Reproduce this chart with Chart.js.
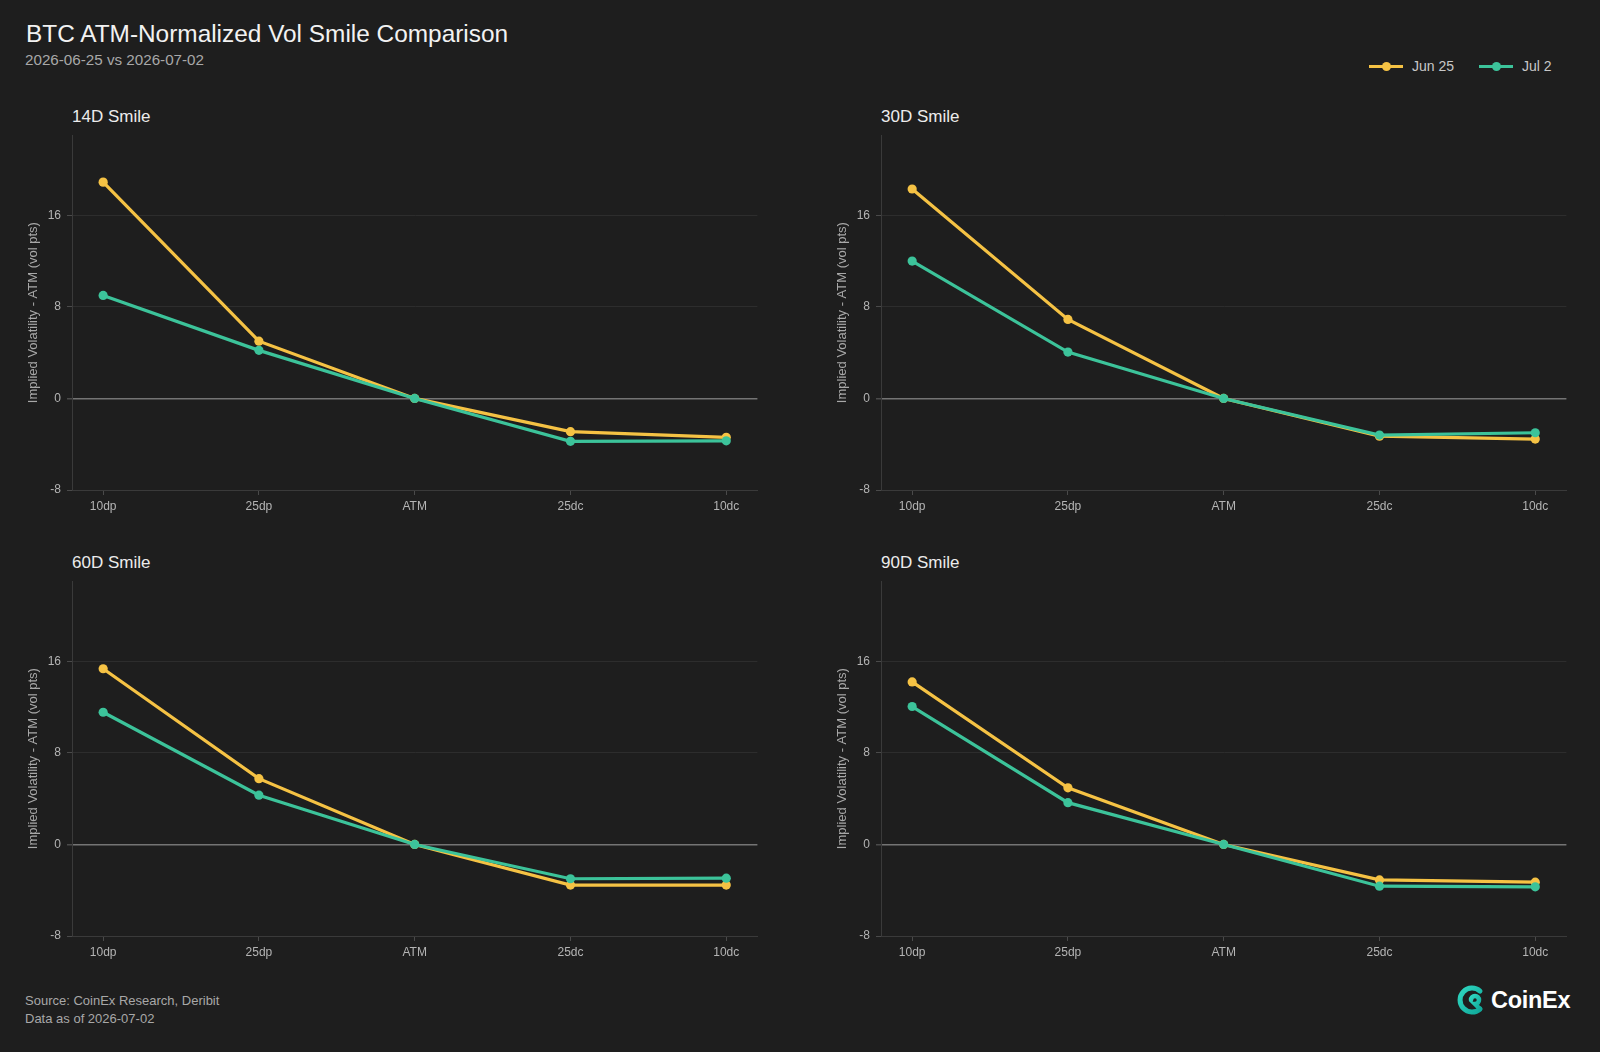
<!DOCTYPE html>
<html>
<head>
<meta charset="utf-8">
<script src="https://cdn.jsdelivr.net/npm/chart.js@4.4.1/dist/chart.umd.min.js"></script>
<style>
  html, body { margin: 0; padding: 0; background: #1e1e1e; }
  body { width: 1600px; height: 1052px; position: relative; overflow: hidden; font-family: "Liberation Sans", Arial, sans-serif; }
  .abs { position: absolute; white-space: nowrap; }
  .title { left: 26px; top: 20px; font-size: 24.4px; line-height: 28px; color: #f2f2f2; }
  .subtitle { left: 25px; top: 51px; font-size: 15.2px; line-height: 18px; color: #a8a8a8; }
  .ptitle { font-size: 17px; line-height: 20px; color: #ececec; }
  .panel { position: absolute; width: 748px; height: 398px; }
  .legend { top: 58px; left: 1369px; display: flex; align-items: center; font-size: 14px; color: #c8c8c8; }
  .legend .item { display: flex; align-items: center; margin-right: 25px; }
  .legend .sw { position: relative; width: 34px; height: 3px; margin-right: 9px; }
  .legend .sw i { position: absolute; left: 13px; top: -3px; width: 9px; height: 9px; border-radius: 50%; }
  .foot { left: 25px; font-size: 13px; line-height: 18px; color: #a8a8a8; }
  .logo { left: 1456px; top: 984px; display: flex; align-items: center; }
  .logo span { font-size: 23.5px; font-weight: bold; color: #ffffff; margin-left: 5px; letter-spacing: -0.3px; }
</style>
</head>
<body>
<div class="abs title">BTC ATM-Normalized Vol Smile Comparison</div>
<div class="abs subtitle">2026-06-25 vs 2026-07-02</div>

<div class="abs legend">
  <div class="item"><div class="sw" style="background:#f5c244"><i style="background:#f5c244"></i></div>Jun 25</div>
  <div class="item"><div class="sw" style="background:#3cc39a"><i style="background:#3cc39a"></i></div>Jul 2</div>
</div>

<div class="abs ptitle" style="left:72px;top:107px">14D Smile</div>
<div class="abs ptitle" style="left:881px;top:107px">30D Smile</div>
<div class="abs ptitle" style="left:72px;top:553px">60D Smile</div>
<div class="abs ptitle" style="left:881px;top:553px">90D Smile</div>

<div class="panel" style="left:14px;top:122px"><canvas id="c0"></canvas></div>
<div class="panel" style="left:823px;top:122px"><canvas id="c1"></canvas></div>
<div class="panel" style="left:14px;top:568px"><canvas id="c2"></canvas></div>
<div class="panel" style="left:823px;top:568px"><canvas id="c3"></canvas></div>

<div class="abs foot" style="top:992px">Source: CoinEx Research, Deribit</div>
<div class="abs foot" style="top:1010px">Data as of 2026-07-02</div>

<div class="abs logo">
  <svg width="30" height="32" viewBox="0 0 30 32">
    <defs>
      <linearGradient id="lg" x1="0" y1="0" x2="1" y2="1">
        <stop offset="0" stop-color="#2fd6c0"/>
        <stop offset="1" stop-color="#10a99a"/>
      </linearGradient>
    </defs>
    <path d="M24 7 A12 12 0 1 0 24 25" fill="none" stroke="url(#lg)" stroke-width="5" stroke-linecap="round"/>
    <path d="M15 16 A4 4 0 1 1 19 20 L24 25" fill="none" stroke="url(#lg)" stroke-width="4.5" stroke-linecap="round"/>
  </svg>
  <span>CoinEx</span>
</div>

<script>
const categories = ['10dp', '25dp', 'ATM', '25dc', '10dc'];
const tenors = ['14D', '30D', '60D', '90D'];
const yTicks = [-8, 0, 8, 16];

// IV minus ATM, vol points
const jun25_14d = [18.9, 5.0, 0, -2.9, -3.4];
const jul2_14d = [9.0, 4.2, 0, -3.75, -3.7];
const jun25_30d = [18.3, 6.9, 0, -3.3, -3.55];
const jul2_30d = [12.0, 4.05, 0, -3.2, -3.0];
const jun25_60d = [15.35, 5.75, 0, -3.55, -3.55];
const jul2_60d = [11.55, 4.3, 0, -3.0, -2.95];
const jun25_90d = [14.2, 4.95, 0, -3.1, -3.3];
const jul2_90d = [12.05, 3.65, 0, -3.65, -3.7];

const jun25Series = [jun25_14d, jun25_30d, jun25_60d, jun25_90d];
const jul2Series = [jul2_14d, jul2_30d, jul2_60d, jul2_90d];

const YELLOW = '#f5c244';
const GREEN = '#3cc39a';
const TICK_FONT = { family: 'Liberation Sans', size: 12 };

function toPoints(values) {
    return values.map((v, i) => ({ x: i, y: v }));
}

function makeDataset(label, values, color, order) {
    return {
        label: label,
        data: toPoints(values),
        borderColor: color,
        backgroundColor: color,
        borderWidth: 3.2,
        pointRadius: 4.6,
        pointBorderWidth: 0,
        pointHoverRadius: 4.6,
        tension: 0,
        order: order
    };
}

tenors.forEach((tenor, idx) => {
    const ctx = document.getElementById('c' + idx).getContext('2d');
    new Chart(ctx, {
        type: 'line',
        data: {
            datasets: [
                makeDataset('Jun 25', jun25Series[idx], YELLOW, 1),
                makeDataset('Jul 2', jul2Series[idx], GREEN, 0)
            ]
        },
        options: {
            responsive: true,
            maintainAspectRatio: false,
            animation: false,
            layout: { padding: 0 },
            plugins: {
                legend: { display: false },
                tooltip: { enabled: false }
            },
            scales: {
                x: {
                    type: 'linear',
                    min: -0.2,
                    max: 4.2,
                    afterBuildTicks: (axis) => {
                        axis.ticks = categories.map((c, i) => ({ value: i }));
                    },
                    afterFit: (axis) => { axis.height = 30; },
                    ticks: {
                        color: '#b4b4b4',
                        font: TICK_FONT,
                        padding: 4,
                        maxRotation: 0,
                        autoSkip: false,
                        callback: (v) => categories[v]
                    },
                    grid: {
                        drawOnChartArea: false,
                        drawTicks: true,
                        tickLength: 5,
                        tickColor: '#4a4a4a'
                    },
                    border: { display: true, color: '#3a3a3a', width: 1 }
                },
                y: {
                    min: -8,
                    max: 23,
                    afterBuildTicks: (axis) => {
                        axis.ticks = yTicks.map(v => ({ value: v }));
                    },
                    afterFit: (axis) => { axis.width = 58; },
                    ticks: {
                        color: '#b4b4b4',
                        font: TICK_FONT,
                        padding: 6
                    },
                    grid: {
                        drawTicks: true,
                        tickLength: 5,
                        tickColor: '#4a4a4a',
                        color: (c) => {
                            if (c.tick && c.tick.value === 0) return '#747474';
                            if (c.tick && c.tick.value === -8) return '#3a3a3a';
                            return '#2d2d2d';
                        },
                        lineWidth: (c) => (c.tick && c.tick.value === 0) ? 1.5 : 1
                    },
                    border: { display: true, color: '#3a3a3a', width: 1 },
                    title: {
                        display: true,
                        text: 'Implied Volatility - ATM (vol pts)',
                        color: '#a8a8a8',
                        font: { family: 'Liberation Sans', size: 13 },
                        padding: { top: 12, bottom: 0 }
                    }
                }
            }
        }
    });
});
</script>
</body>
</html>
